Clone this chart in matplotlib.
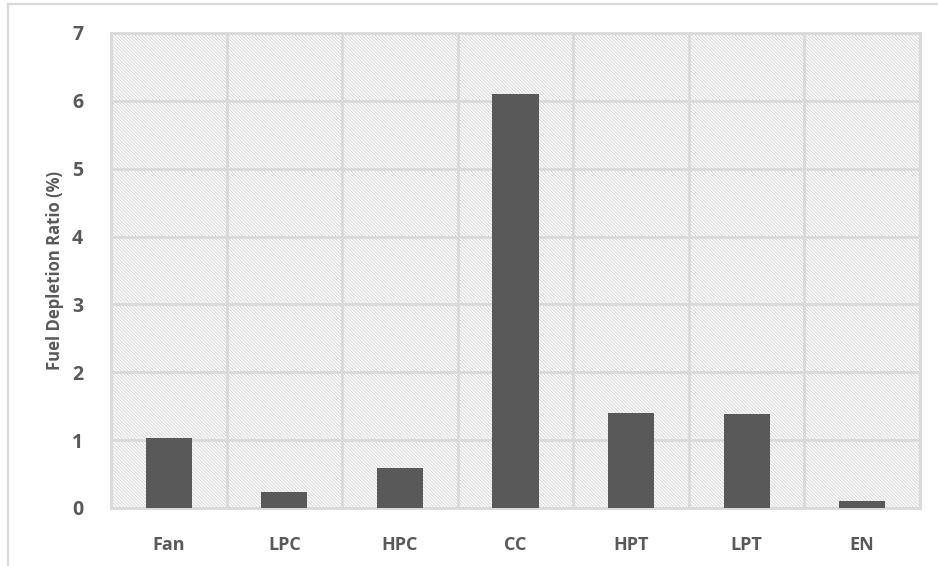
import numpy as np
import matplotlib.pyplot as plt
from matplotlib.lines import Line2D

# Fuel depletion ratio per engine component
components = ['Fan', 'LPC', 'HPC', 'CC', 'HPT', 'LPT', 'EN']
depletion = [1.03, 0.24, 0.59, 6.10, 1.40, 1.38, 0.10]
yticks = [0, 1, 2, 3, 4, 5, 6, 7]

grid_col = '#d9d9d9'
text_col = '#595959'

plt.rcParams['font.family'] = ['Open Sans', 'DejaVu Sans']
plt.rcParams['hatch.color'] = '#d6d6d6'
plt.rcParams['hatch.linewidth'] = 0.7

fig = plt.figure(figsize=(9.38, 5.66), dpi=100)
ax = fig.add_axes([0.1183, 0.1025, 0.8625, 0.8392])

# hatched plot background
ax.patch.set_facecolor('white')
ax.patch.set_edgecolor('#d6d6d6')
ax.patch.set_hatch('\\' * 10)

ind = np.arange(len(components))
ax.bar(ind, depletion, width=0.4, color='#595959', zorder=3)

ax.set_xlim(-0.5, len(components) - 0.5)
ax.set_ylim(0, 7)
ax.set_yticks(yticks)
ax.set_xticks(ind)
ax.set_xticklabels(components)
ax.set_xticks(np.arange(-0.5, len(components), 1), minor=True)

ax.grid(True, which='major', axis='y', color=grid_col, linewidth=2.0, zorder=1)
ax.grid(True, which='minor', axis='x', color=grid_col, linewidth=2.0, zorder=1)
ax.set_axisbelow(True)

for s in ax.spines.values():
    s.set_color(grid_col)
    s.set_linewidth(2.0)

ax.tick_params(which='both', length=0)
ax.tick_params(axis='y', pad=20, labelsize=14, labelcolor=text_col)
ax.tick_params(axis='x', pad=20, labelsize=13, labelcolor=text_col)
for lab in ax.get_xticklabels() + ax.get_yticklabels():
    lab.set_fontweight('bold')

ax.set_ylabel('Fuel Depletion Ratio (%)', fontsize=12, color=text_col,
              fontweight='bold', labelpad=6)

# chart frame
fig.add_artist(Line2D([8 / 938, 1.0], [1 - 4 / 566, 1 - 4 / 566],
                      color=grid_col, linewidth=1.6, transform=fig.transFigure))
fig.add_artist(Line2D([8 / 938, 8 / 938], [0, 1 - 4 / 566],
                      color=grid_col, linewidth=1.6, transform=fig.transFigure))

fig.savefig('out.png', dpi=100)
